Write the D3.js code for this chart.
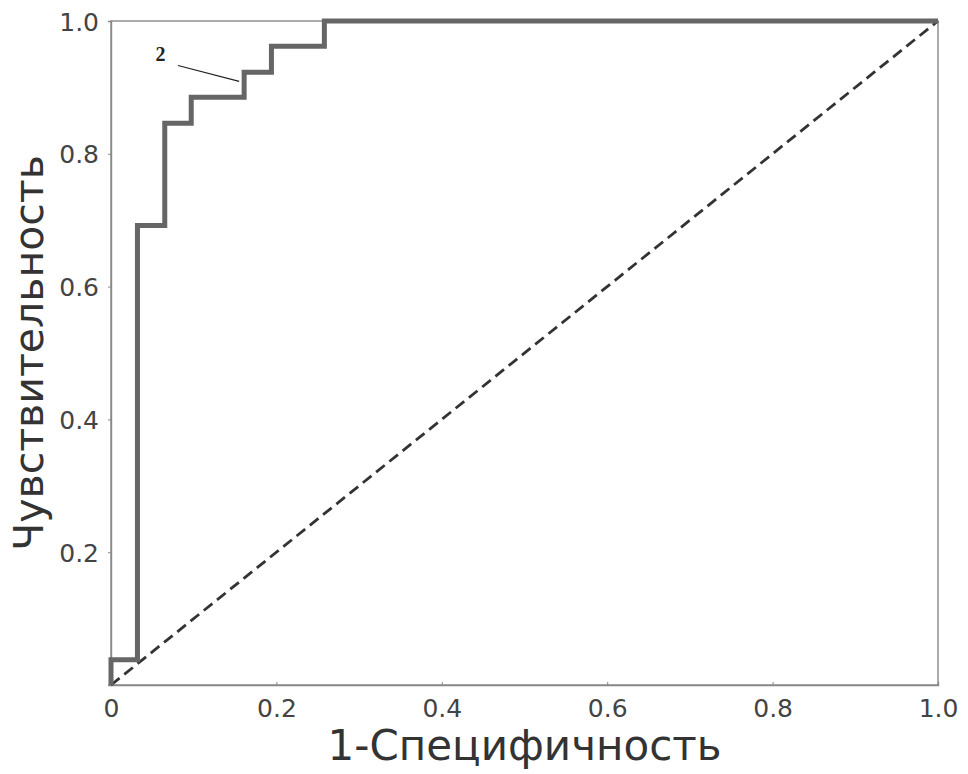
<!DOCTYPE html>
<html>
<head>
<meta charset="utf-8">
<script src="https://cdn.jsdelivr.net/npm/d3@7"></script>
<style>
  body { margin: 0; background: #fff; }
  svg { display: block; }
</style>
</head>
<body>
<div id="chart"></div>
<script>
// ROC curve, step points (1 - specificity, sensitivity)
var fpr = [0, 0, 0.032, 0.032, 0.065, 0.065, 0.097, 0.097, 0.161, 0.161, 0.194, 0.194, 0.258, 0.258, 1.0];
var tpr = [0, 0.038, 0.038, 0.692, 0.692, 0.846, 0.846, 0.885, 0.885, 0.923, 0.923, 0.962, 0.962, 1.0, 1.0];
var diag = [0, 1];
var xTicks = [0, 0.2, 0.4, 0.6, 0.8, 1.0];
var yTicks = [0.2, 0.4, 0.6, 0.8, 1.0];
var xLabel = "1-Специфичность";
var yLabel = "Чувствительность";
var curveLabel = "2";

var W = 968, H = 774;
var m = {left: 111, right: 30, top: 21, bottom: 89};

var svg = d3.select("#chart").append("svg")
    .attr("width", W)
    .attr("height", H);

var x = d3.scaleLinear().domain([0, 1]).range([m.left, W - m.right]);
var y = d3.scaleLinear().domain([0, 1]).range([H - m.bottom, m.top]);

var fmt = function(d){ return d === 0 ? "0" : d3.format(".1f")(d); };

// frame
svg.append("rect")
    .attr("x", x(0)).attr("y", y(1))
    .attr("width", x(1) - x(0)).attr("height", y(0) - y(1))
    .attr("fill", "none")
    .attr("stroke", "#888")
    .attr("stroke-width", 1.4);

var xAxis = svg.append("g")
    .attr("transform", "translate(0," + y(0) + ")")
    .call(d3.axisBottom(x).tickValues(xTicks).tickFormat(fmt).tickSize(-3).tickPadding(14));

var yAxis = svg.append("g")
    .attr("transform", "translate(" + x(0) + ",0)")
    .call(d3.axisLeft(y).tickValues(yTicks).tickFormat(fmt).tickSize(3).tickPadding(9));

[xAxis, yAxis].forEach(function(g){
    g.select(".domain").attr("stroke", "#888").attr("stroke-width", 1.4);
    g.selectAll(".tick line").attr("stroke", "#888");
    g.selectAll(".tick text")
        .attr("fill", "#444")
        .style("font-family", "DejaVu Sans, sans-serif")
        .style("font-size", "25px");
});
yAxis.selectAll(".tick text").attr("dy", "0.36em");

// diagonal reference
svg.append("line")
    .attr("x1", x(diag[0])).attr("y1", y(diag[0]))
    .attr("x2", x(diag[1])).attr("y2", y(diag[1]))
    .attr("stroke", "#333")
    .attr("stroke-width", 2.8)
    .attr("stroke-dasharray", "11,6");

// ROC step curve
var line = d3.line()
    .x(function(d){ return x(d[0]); })
    .y(function(d){ return y(d[1]); });

svg.append("path")
    .datum(d3.zip(fpr, tpr))
    .attr("d", line)
    .attr("fill", "none")
    .attr("stroke", "#666")
    .attr("stroke-width", 5)
    .attr("stroke-linejoin", "miter");

// curve annotation
svg.append("line")
    .attr("x1", x(0.081)).attr("y1", y(0.933))
    .attr("x2", x(0.155)).attr("y2", y(0.909))
    .attr("stroke", "#222")
    .attr("stroke-width", 1.2);

svg.append("text")
    .attr("x", x(0.06)).attr("y", y(0.94))
    .attr("text-anchor", "middle")
    .style("font-family", "Liberation Serif, serif")
    .style("font-weight", "bold")
    .style("font-size", "20px")
    .attr("fill", "#222")
    .text(curveLabel);

// axis titles
svg.append("text")
    .attr("x", (x(0) + x(1)) / 2)
    .attr("y", 760)
    .attr("text-anchor", "middle")
    .attr("fill", "#333")
    .style("font-family", "DejaVu Sans, sans-serif")
    .style("font-size", "42px")
    .text(xLabel);

svg.append("text")
    .attr("transform", "translate(43," + ((y(0) + y(1)) / 2) + ") rotate(-90)")
    .attr("text-anchor", "middle")
    .attr("fill", "#333")
    .style("font-family", "DejaVu Sans, sans-serif")
    .style("font-size", "41px")
    .text(yLabel);
</script>
</body>
</html>
